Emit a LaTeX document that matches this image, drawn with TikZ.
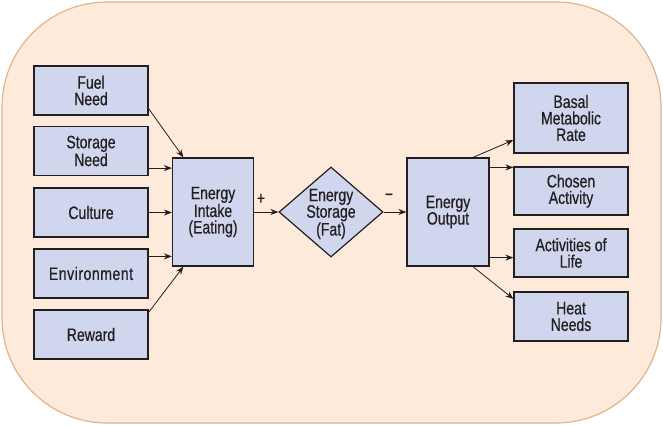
\documentclass[tikz,border=0pt]{standalone}
\usepackage{fontspec}
\setmainfont{Liberation Sans}[FakeStretch=0.78,FakeBold=0.5]
\usetikzlibrary{arrows.meta,shapes.geometric,calc}
\definecolor{bgfill}{HTML}{FDEADB}
\definecolor{bgline}{HTML}{E0B48C}
\definecolor{boxfill}{HTML}{D0D6EE}
\definecolor{ink}{HTML}{231F20}
\begin{document}
\begin{tikzpicture}[x=1pt,y=-1pt,
  box/.style={draw=ink, line width=1.2pt, fill=boxfill, text=ink, align=center, inner sep=0pt, font=\fontsize{18}{16.5}\selectfont},
  lbox/.style={box, minimum width=114pt, minimum height=49pt},
  cbox/.style={box, minimum width=81pt, minimum height=108pt},
  arr/.style={draw=ink, line width=0.8pt, -{Stealth[length=8pt,width=6pt]}},
  sign/.style={text=ink, font=\fontsize{18}{18}\selectfont, inner sep=0pt}]
\useasboundingbox (0,0) rectangle (663,425);
\draw[fill=bgfill, draw=bgline, line width=1.2pt, rounded corners=105pt] (2,2) rectangle (661,423);

% left column
\node[lbox] (fuel) at (91,90.5) {Fuel\\Need};
\node[lbox] (storage) at (91,151) {Storage\\Need};
\node[lbox] (culture) at (91,212.5) {Culture};
\node[lbox] (env) at (91,273.5) {{\addfontfeature{LetterSpace=3}Environment}};
\node[lbox] (reward) at (91,334.5) {Reward};

% center
\node[cbox] (intake) at (213,212) {Energy\\Intake\\(Eating)};
\node[diamond, draw=ink, line width=1.2pt, fill=boxfill, aspect=1.155, minimum width=104pt, minimum height=90pt, inner sep=0pt] (stor) at (331,212) {};
\node[text=ink, align=center, font=\fontsize{18}{16.5}\selectfont, inner sep=0pt] (storlbl) at (331,214) {Energy\\Storage\\(Fat)};
\node[box, minimum width=82pt, minimum height=108pt] (output) at (448,212) {Energy\\Output};

% right column
\node[box, minimum width=114pt, minimum height=70pt] (basal) at (571,118) {Basal\\Metabolic\\Rate};
\node[box, minimum width=114pt, minimum height=48pt] (chosen) at (571,191) {Chosen\\Activity};
\node[box, minimum width=114pt, minimum height=48pt] (activ) at (571,253) {Activities of\\Life};
\node[box, minimum width=114pt, minimum height=49pt] (heat) at (571,316.5) {Heat\\Needs};

% signs
\node[sign] (plus) at (261,199) {+};
\node[sign] (minus) at (389,197) {−};

% arrows into intake
\draw[arr] ($(fuel.south east)!0.14!(fuel.north east)$) -- ($(intake.north west)!0.14!(intake.north east)$);
\draw[arr] ([yshift=8pt]storage.south east) coordinate (s1) -- (s1 -| intake.west);
\draw[arr] (culture.east) -- (culture.east -| intake.west);
\draw[arr] ([yshift=-8pt]env.north east) coordinate (e1) -- (e1 -| intake.west);
\draw[arr] ($(reward.north east)!0.06!(reward.south east)$) -- ($(intake.south west)!0.14!(intake.south east)$);

% middle chain
\draw[arr] (intake.east) -- (stor.west);
\draw[arr] (stor.east) -- (output.west);

% arrows out of output
\draw[arr] ($(output.north west)!0.8!(output.north east)$) -- ($(basal.south west)!0.19!(basal.north west)$);
\draw[arr] ([yshift=-10pt]output.north east) coordinate (o1) -- (o1 -| chosen.west);
\draw[arr] ([yshift=9pt]output.south east) coordinate (o2) -- (o2 -| activ.west);
\draw[arr] ($(output.south west)!0.8!(output.south east)$) -- ($(heat.north west)!0.15!(heat.south west)$);
\end{tikzpicture}
\end{document}
